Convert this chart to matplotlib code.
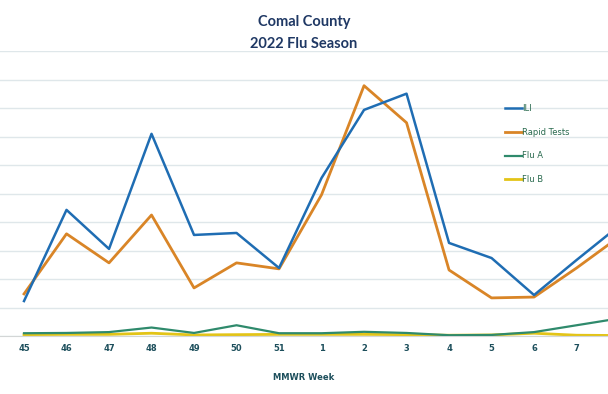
import numpy as np
import matplotlib.pyplot as plt

weeks = ['45', '46', '47', '48', '49', '50', '51', '1', '2', '3', '4', '5', '6', '7', '8']

ili = [1.23, 4.43, 3.06, 7.10, 3.55, 3.62, 2.39, 5.55, 7.94, 8.51, 3.27, 2.74, 1.44, 2.67, 3.87]
rapid = [1.48, 3.59, 2.57, 4.25, 1.69, 2.57, 2.36, 4.96, 8.79, 7.49, 2.32, 1.34, 1.37, 2.39, 3.48]
flu_a = [0.10, 0.11, 0.14, 0.30, 0.11, 0.38, 0.10, 0.10, 0.15, 0.11, 0.03, 0.04, 0.14, 0.38, 0.62]
flu_b = [0.05, 0.06, 0.06, 0.10, 0.04, 0.05, 0.06, 0.06, 0.06, 0.05, 0.03, 0.04, 0.10, 0.03, 0.02]

tick_col = '#1d4f5c'

fig = plt.figure(figsize=(6.08, 3.94), dpi=100)
ax = fig.add_axes([0, 0.147, 1, 0.723])

x = np.arange(len(weeks))
ax.plot(x, ili, color='#1f6db3', lw=1.8, label='ILI', zorder=4)
ax.plot(x, rapid, color='#d98527', lw=2.0, label='Rapid Tests', zorder=3)
ax.plot(x, flu_a, color='#2f8a6c', lw=1.6, label='Flu A', zorder=3)
ax.plot(x, flu_b, color='#e3c417', lw=2.0, label='Flu B', zorder=2)

ax.set_xlim(-0.565, 13.74)
ax.set_ylim(0, 10)
ax.set_yticks(np.arange(0, 11, 1))
ax.yaxis.grid(True, color='#dfe7ea', lw=1)
ax.set_axisbelow(True)
for s in ['top', 'right', 'left']:
    ax.spines[s].set_visible(False)
ax.spines['bottom'].set_color('#d3d6d6')
ax.tick_params(axis='y', left=False, labelleft=False)
ax.tick_params(axis='x', length=0, pad=6, labelsize=6, colors=tick_col)
# the last week falls outside the visible range, so only label the visible ones
ax.set_xticks(x[:-1])
ax.set_xticklabels(weeks[:-1], fontweight='bold')

fig.text(0.5, 1 - 377 / 394, 'MMWR Week', ha='center', va='center', fontsize=6,
         fontweight='bold', color=tick_col)

fig.text(0.5, 1 - 22 / 394, 'Comal County', ha='center', va='center', fontsize=10.5,
         fontweight='bold', color='#1f3864', family='Lato')
fig.text(0.5, 1 - 44 / 394, '2022 Flu Season', ha='center', va='center', fontsize=10.5,
         fontweight='bold', color='#1f3864', family='Lato')

leg = ax.legend(loc='upper left', bbox_to_anchor=(0.818, 0.84), frameon=False,
                fontsize=6, handlelength=2.0, handletextpad=0.1, labelspacing=1.75)
for t in leg.get_texts():
    t.set_color('#2a6b4f')

fig.savefig('out.png', dpi=100)
